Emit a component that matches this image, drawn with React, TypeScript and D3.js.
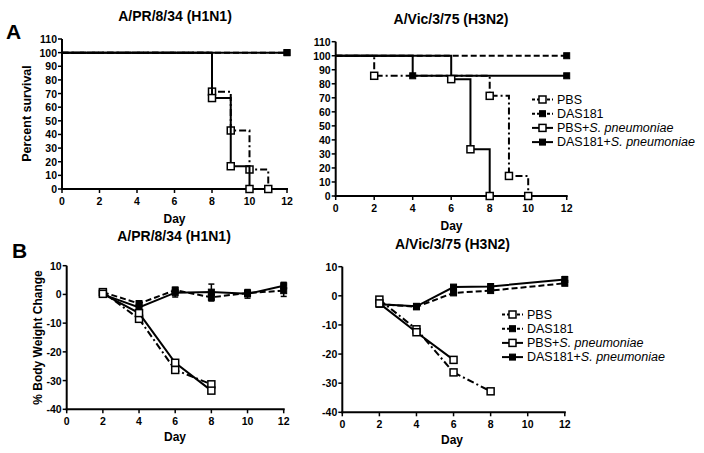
import React from "react";
import * as d3 from "d3";

// ---------- Data ----------
// Survival (Kaplan–Meier), panel A
const survH1_PBS_days = [0, 8, 9, 10, 11];
const survH1_PBS_vals = [100, 71.4, 42.9, 14.3, 0];
const survH1_DAS_days = [0, 12];
const survH1_DAS_vals = [100, 100];
const survH1_PBSS_days = [0, 8, 9, 10];
const survH1_PBSS_vals = [100, 66.7, 16.7, 0];
const survH1_DASS_days = [0, 12];
const survH1_DASS_vals = [100, 100];

const survH3_PBS_days = [0, 2, 8, 9, 10];
const survH3_PBS_vals = [100, 85.7, 71.4, 14.3, 0];
const survH3_DAS_days = [0, 12];
const survH3_DAS_vals = [100, 100];
const survH3_PBSS_days = [0, 6, 7, 8];
const survH3_PBSS_vals = [100, 83.3, 33.3, 0];
const survH3_DASS_days = [0, 4, 12];
const survH3_DASS_vals = [100, 85.7, 85.7];

// Body weight change, panel B
const wH1_PBS_days = [2, 4, 6, 8];
const wH1_PBS_vals = [0.8, -8.5, -26.3, -31.3];
const wH1_PBS_err = [0.5, 1.0, 0.6, 0.6];
const wH1_DAS_days = [2, 4, 6, 8, 10, 12];
const wH1_DAS_vals = [0.8, -3.2, 1.5, -1.0, 0.5, 1.3];
const wH1_DAS_err = [0.4, 1.0, 1.0, 1.3, 1.0, 2.0];
const wH1_PBSS_days = [2, 4, 6, 8];
const wH1_PBSS_vals = [0.2, -6.5, -23.8, -33.5];
const wH1_PBSS_err = [0.5, 1.0, 0.6, 0.6];
const wH1_DASS_days = [2, 4, 6, 8, 10, 12];
const wH1_DASS_vals = [0.0, -4.5, 0.6, 0.8, 0.2, 3.0];
const wH1_DASS_err = [0.4, 1.0, 1.5, 2.8, 1.5, 1.2];

const wH3_PBS_days = [2, 4, 6, 8];
const wH3_PBS_vals = [-1.3, -11.5, -26.3, -32.8];
const wH3_PBS_err = [0.4, 0.5, 0.6, 0.4];
const wH3_DAS_days = [2, 4, 6, 8, 12];
const wH3_DAS_vals = [-2.8, -3.8, 1.0, 1.8, 4.3];
const wH3_DAS_err = [0.4, 0.4, 0.5, 0.5, 0.5];
const wH3_PBSS_days = [2, 4, 6];
const wH3_PBSS_vals = [-2.6, -12.5, -22.0];
const wH3_PBSS_err = [0.4, 0.5, 1.0];
const wH3_DASS_days = [2, 4, 6, 8, 12];
const wH3_DASS_vals = [-2.9, -3.6, 3.0, 3.2, 5.6];
const wH3_DASS_err = [0.4, 0.4, 0.5, 0.5, 1.0];

const xTicks = [0, 2, 4, 6, 8, 10, 12];
const survTicks = [0, 10, 20, 30, 40, 50, 60, 70, 80, 90, 100, 110];
const weightTicks = [-40, -30, -20, -10, 0, 10];
const legendLabels = ["PBS", "DAS181", "PBS+", "DAS181+"];

// ---------- Styles ----------
const FONT = "'Liberation Sans', Arial, Helvetica, sans-serif";
const DASH_PBS = "7,3,2,3";
const DASH_DAS = "6,3";
type Style = { dash: string | null; filled: boolean };
const styles: Style[] = [
  { dash: DASH_PBS, filled: false },
  { dash: DASH_DAS, filled: true },
  { dash: null, filled: false },
  { dash: null, filled: true },
];

type Scale = d3.ScaleLinear<number, number>;

function Marker({ x, y, filled }: { x: number; y: number; filled: boolean }) {
  const s = filled ? 6 : 7;
  return (
    <rect
      x={x - s / 2}
      y={y - s / 2}
      width={s}
      height={s}
      fill={filled ? "#000" : "#fff"}
      stroke="#000"
      strokeWidth={filled ? 1 : 1.5}
    />
  );
}

function Axes({ x, y, yTicks, xLabelY }: { x: Scale; y: Scale; yTicks: number[]; xLabelY: number }) {
  const [x0, x1] = x.range();
  const [yb, yt] = y.range();
  return (
    <g fontFamily={FONT} fontWeight="bold" fontSize={10.5} fill="#000">
      <line x1={x0} x2={x0} y1={yb + 1} y2={yt} stroke="#000" strokeWidth={2} />
      <line x1={x0 - 1} x2={x1 + 1} y1={yb} y2={yb} stroke="#000" strokeWidth={2} />
      {yTicks.map((t) => (
        <g key={"y" + t}>
          <line x1={x0 - 4} x2={x0} y1={y(t)} y2={y(t)} stroke="#000" strokeWidth={1.5} />
          <text x={x0 - 5} y={y(t)} textAnchor="end" dominantBaseline="central">
            {t}
          </text>
        </g>
      ))}
      {xTicks.map((t) => (
        <g key={"x" + t}>
          <line x1={x(t)} x2={x(t)} y1={yb} y2={yb + 4} stroke="#000" strokeWidth={1.5} />
          <text x={x(t)} y={xLabelY} textAnchor="middle">
            {t}
          </text>
        </g>
      ))}
    </g>
  );
}

function SurvSeries({ x, y, days, vals, st, markFrom }: { x: Scale; y: Scale; days: number[]; vals: number[]; st: Style; markFrom: number[] }) {
  const pts: [number, number][] = days.map((d, i) => [d, vals[i]]);
  const line = d3
    .line<[number, number]>()
    .x((p) => x(p[0]))
    .y((p) => y(p[1]))
    .curve(d3.curveStepAfter);
  return (
    <g>
      <path d={line(pts) || ""} fill="none" stroke="#000" strokeWidth={2} strokeDasharray={st.dash || undefined} />
      {markFrom.map((i) => (
        <Marker key={i} x={x(days[i])} y={y(vals[i])} filled={st.filled} />
      ))}
    </g>
  );
}

function WeightSeries({ x, y, days, vals, err, st }: { x: Scale; y: Scale; days: number[]; vals: number[]; err: number[]; st: Style }) {
  const pts: [number, number][] = days.map((d, i) => [d, vals[i]]);
  const line = d3
    .line<[number, number]>()
    .x((p) => x(p[0]))
    .y((p) => y(p[1]));
  return (
    <g>
      {days.map((d, i) => (
        <g key={"e" + i} stroke="#000" strokeWidth={1.5}>
          <line x1={x(d)} x2={x(d)} y1={y(vals[i] - err[i])} y2={y(vals[i] + err[i])} />
          <line x1={x(d) - 3} x2={x(d) + 3} y1={y(vals[i] - err[i])} y2={y(vals[i] - err[i])} />
          <line x1={x(d) - 3} x2={x(d) + 3} y1={y(vals[i] + err[i])} y2={y(vals[i] + err[i])} />
        </g>
      ))}
      <path d={line(pts) || ""} fill="none" stroke="#000" strokeWidth={2} strokeDasharray={st.dash || undefined} />
      {days.map((d, i) => (
        <Marker key={i} x={x(d)} y={y(vals[i])} filled={st.filled} />
      ))}
    </g>
  );
}

function Legend({ x0, y0, dy }: { x0: number; y0: number; dy: number }) {
  return (
    <g fontFamily={FONT} fontSize={12.5} fill="#000">
      {legendLabels.map((lab, i) => {
        const st = styles[i];
        const yy = y0 + i * dy;
        return (
          <g key={lab}>
            <line x1={x0} x2={x0 + 21} y1={yy} y2={yy} stroke="#000" strokeWidth={2} strokeDasharray={st.dash ? "3,2" : undefined} />
            <Marker x={x0 + 10.5} y={yy} filled={st.filled} />
            <text x={x0 + 25} y={yy} dominantBaseline="central">
              {lab}
              {i >= 2 ? <tspan fontStyle="italic">S. pneumoniae</tspan> : null}
            </text>
          </g>
        );
      })}
    </g>
  );
}

export default function App() {
  const xA1 = d3.scaleLinear().domain([0, 12]).range([62, 287]);
  const yA1 = d3.scaleLinear().domain([0, 110]).range([189, 39]);
  const xA2 = d3.scaleLinear().domain([0, 12]).range([335.7, 566.7]);
  const yA2 = d3.scaleLinear().domain([0, 110]).range([196, 41.7]);
  const xB1 = d3.scaleLinear().domain([0, 12]).range([66.7, 283.7]);
  const yB1 = d3.scaleLinear().domain([-40, 10]).range([409.3, 265.7]);
  const xB2 = d3.scaleLinear().domain([0, 12]).range([342.3, 564.8]);
  const yB2 = d3.scaleLinear().domain([-40, 10]).range([412.3, 266.7]);

  const rng = (n: number, from = 1) => d3.range(from, n);

  return (
    <svg
      width={704}
      height={453}
      viewBox="0 0 704 453"
      style={{ position: "absolute", left: 0, top: 0, background: "#fff" }}
    >
      <rect width={704} height={453} fill="#fff" />
      <g fontFamily={FONT} fontWeight="bold" fill="#000">
        <text x={6} y={39} fontSize={21}>A</text>
        <text x={12} y={258} fontSize={21}>B</text>
        <text x={175} y={21} fontSize={14} textAnchor="middle">A/PR/8/34 (H1N1)</text>
        <text x={451} y={24} fontSize={14} textAnchor="middle">A/Vic/3/75 (H3N2)</text>
        <text x={174} y={241} fontSize={14} textAnchor="middle">A/PR/8/34 (H1N1)</text>
        <text x={452.5} y={249} fontSize={14} textAnchor="middle">A/Vic/3/75 (H3N2)</text>
        <text x={174.5} y={223} fontSize={12} textAnchor="middle">Day</text>
        <text x={451.5} y={230} fontSize={12} textAnchor="middle">Day</text>
        <text x={175} y={441} fontSize={12} textAnchor="middle">Day</text>
        <text x={452} y={444} fontSize={12} textAnchor="middle">Day</text>
        <text transform="translate(27,113.5) rotate(-90)" fontSize={12.5} textAnchor="middle" dominantBaseline="central">
          Percent survival
        </text>
        <text transform="translate(37.5,337.5) rotate(-90)" fontSize={12} textAnchor="middle" dominantBaseline="central">
          % Body Weight Change
        </text>
      </g>

      {/* Panel A left */}
      <Axes x={xA1} y={yA1} yTicks={survTicks} xLabelY={205} />
      <SurvSeries x={xA1} y={yA1} days={survH1_DAS_days} vals={survH1_DAS_vals} st={styles[1]} markFrom={rng(survH1_DAS_days.length)} />
      <SurvSeries x={xA1} y={yA1} days={survH1_PBS_days} vals={survH1_PBS_vals} st={styles[0]} markFrom={rng(survH1_PBS_days.length)} />
      <SurvSeries x={xA1} y={yA1} days={survH1_DASS_days} vals={survH1_DASS_vals} st={styles[3]} markFrom={rng(survH1_DASS_days.length)} />
      <SurvSeries x={xA1} y={yA1} days={survH1_PBSS_days} vals={survH1_PBSS_vals} st={styles[2]} markFrom={rng(survH1_PBSS_days.length)} />

      {/* Panel A right */}
      <Axes x={xA2} y={yA2} yTicks={survTicks} xLabelY={212} />
      <SurvSeries x={xA2} y={yA2} days={survH3_DAS_days} vals={survH3_DAS_vals} st={styles[1]} markFrom={rng(survH3_DAS_days.length)} />
      <SurvSeries x={xA2} y={yA2} days={survH3_PBS_days} vals={survH3_PBS_vals} st={styles[0]} markFrom={rng(survH3_PBS_days.length)} />
      <SurvSeries x={xA2} y={yA2} days={survH3_DASS_days} vals={survH3_DASS_vals} st={styles[3]} markFrom={rng(survH3_DASS_days.length)} />
      <SurvSeries x={xA2} y={yA2} days={survH3_PBSS_days} vals={survH3_PBSS_vals} st={styles[2]} markFrom={rng(survH3_PBSS_days.length)} />
      <Legend x0={532} y0={99.5} dy={14.2} />

      {/* Panel B left */}
      <Axes x={xB1} y={yB1} yTicks={weightTicks} xLabelY={425} />
      <WeightSeries x={xB1} y={yB1} days={wH1_DAS_days} vals={wH1_DAS_vals} err={wH1_DAS_err} st={styles[1]} />
      <WeightSeries x={xB1} y={yB1} days={wH1_PBS_days} vals={wH1_PBS_vals} err={wH1_PBS_err} st={styles[0]} />
      <WeightSeries x={xB1} y={yB1} days={wH1_DASS_days} vals={wH1_DASS_vals} err={wH1_DASS_err} st={styles[3]} />
      <WeightSeries x={xB1} y={yB1} days={wH1_PBSS_days} vals={wH1_PBSS_vals} err={wH1_PBSS_err} st={styles[2]} />

      {/* Panel B right */}
      <Axes x={xB2} y={yB2} yTicks={weightTicks} xLabelY={428} />
      <WeightSeries x={xB2} y={yB2} days={wH3_DAS_days} vals={wH3_DAS_vals} err={wH3_DAS_err} st={styles[1]} />
      <WeightSeries x={xB2} y={yB2} days={wH3_PBS_days} vals={wH3_PBS_vals} err={wH3_PBS_err} st={styles[0]} />
      <WeightSeries x={xB2} y={yB2} days={wH3_DASS_days} vals={wH3_DASS_vals} err={wH3_DASS_err} st={styles[3]} />
      <WeightSeries x={xB2} y={yB2} days={wH3_PBSS_days} vals={wH3_PBSS_vals} err={wH3_PBSS_err} st={styles[2]} />
      <Legend x0={502} y0={314.5} dy={14.2} />
    </svg>
  );
}
